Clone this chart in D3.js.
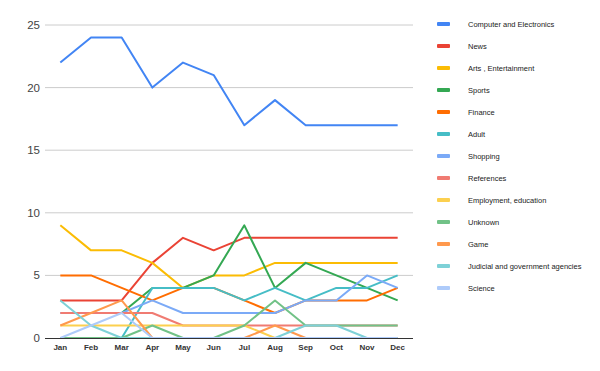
<!DOCTYPE html>
<html>
<head>
<meta charset="utf-8">
<script src="https://cdn.jsdelivr.net/npm/d3@7"></script>
<style>
  body { margin: 0; background: #fff; }
  text { font-family: "Liberation Sans", Arial, sans-serif; }
</style>
</head>
<body>
<div id="chart"></div>
<script>
var months = ["Jan", "Feb", "Mar", "Apr", "May", "Jun", "Jul", "Aug", "Sep", "Oct", "Nov", "Dec"];
var yTicks = [0, 5, 10, 15, 20, 25];

var computerElectronics = [22, 24, 24, 20, 22, 21, 17, 19, 17, 17, 17, 17];
var news = [3, 3, 3, 6, 8, 7, 8, 8, 8, 8, 8, 8];
var arts = [9, 7, 7, 6, 4, 5, 5, 6, 6, 6, 6, 6];
var sports = [null, null, 2, 4, 4, 5, 9, 4, 6, 5, 4, 3];
var finance = [5, 5, 4, 3, 4, 4, 3, 2, 3, 3, 3, 4];
var adult = [0, 0, 0, 4, 4, 4, 3, 4, 3, 4, 4, 5];
var shopping = [2, 2, 2, 3, 2, 2, 2, 2, 3, 3, 5, 4];
var references = [2, 2, 2, 2, 1, 1, 1, 1, 1, 1, 1, 1];
var employment = [1, 1, 1, 1, 1, 1, 1, 0, 0, 0, 0, 0];
var unknown = [0, 0, 0, 1, 0, 0, 1, 3, 1, 1, 1, 1];
var game = [1, 2, 3, 0, 0, 0, 0, 1, 0, 0, 0, 0];
var judicial = [3, 1, 0, 0, 0, 0, 0, 0, 1, 1, 0, 0];
var science = [0, 1, 2, 0, 0, 0, 0, 0, 0, 0, 0, 0];

var seriesNames = ["Computer and Electronics", "News", "Arts , Entertainment", "Sports", "Finance", "Adult",
    "Shopping", "References", "Employment, education", "Unknown", "Game", "Judicial and government agencies", "Science"];
var seriesValues = [computerElectronics, news, arts, sports, finance, adult,
    shopping, references, employment, unknown, game, judicial, science];
var colors = ["#4285F4", "#EA4335", "#FBBC04", "#34A853", "#FF6D01", "#46BDC6",
    "#7BAAF7", "#F07B72", "#FCD04F", "#71C287", "#FF994D", "#7ED1D7", "#AECBFA"];

var width = 600, height = 371;

var svg = d3.select("#chart").append("svg")
    .attr("width", width)
    .attr("height", height);

var x = d3.scalePoint()
    .domain(months)
    .range([45, 413])
    .padding(0.5);

var y = d3.scaleLinear()
    .domain([0, 25])
    .range([338, 25]);

// gridlines
svg.append("g").selectAll("line")
    .data(yTicks.slice(1))
    .enter().append("line")
    .attr("x1", 45).attr("x2", 413)
    .attr("y1", function(d) { return y(d); })
    .attr("y2", function(d) { return y(d); })
    .attr("stroke", "#cccccc")
    .attr("stroke-width", 1);

// y labels
svg.append("g").selectAll("text")
    .data(yTicks)
    .enter().append("text")
    .attr("x", 40)
    .attr("y", function(d) { return y(d) + 4; })
    .attr("text-anchor", "end")
    .attr("font-size", 11.5)
    .attr("fill", "#444")
    .text(function(d) { return d; });

var line = d3.line()
    .defined(function(d) { return d != null; })
    .x(function(d, i) { return x(months[i]); })
    .y(function(d) { return y(d); });

svg.append("g").selectAll("path")
    .data(seriesValues)
    .enter().append("path")
    .attr("d", function(d) { return line(d); })
    .attr("fill", "none")
    .attr("stroke", function(d, i) { return colors[i]; })
    .attr("stroke-width", 2)
    .attr("stroke-linejoin", "round");

// baseline
svg.append("line")
    .attr("x1", 45).attr("x2", 413)
    .attr("y1", y(0) + 0.5).attr("y2", y(0) + 0.5)
    .attr("stroke", "#333")
    .attr("stroke-width", 1.2);

// month labels
svg.append("g").selectAll("text")
    .data(months)
    .enter().append("text")
    .attr("x", function(d) { return x(d); })
    .attr("y", 350)
    .attr("text-anchor", "middle")
    .attr("font-size", 8)
    .attr("font-weight", "bold")
    .attr("fill", "#333")
    .text(function(d) { return d; });

// legend
var legend = svg.append("g").selectAll("g")
    .data(seriesNames)
    .enter().append("g")
    .attr("transform", function(d, i) { return "translate(437," + (24 + i * 22) + ")"; });

legend.append("rect")
    .attr("x", 0).attr("y", -2)
    .attr("width", 13).attr("height", 4)
    .attr("rx", 1)
    .attr("fill", function(d, i) { return colors[i]; });

legend.append("text")
    .attr("x", 31)
    .attr("y", 2.5)
    .attr("font-size", 7.5)
    .attr("fill", "#222")
    .text(function(d) { return d; });
</script>
</body>
</html>
